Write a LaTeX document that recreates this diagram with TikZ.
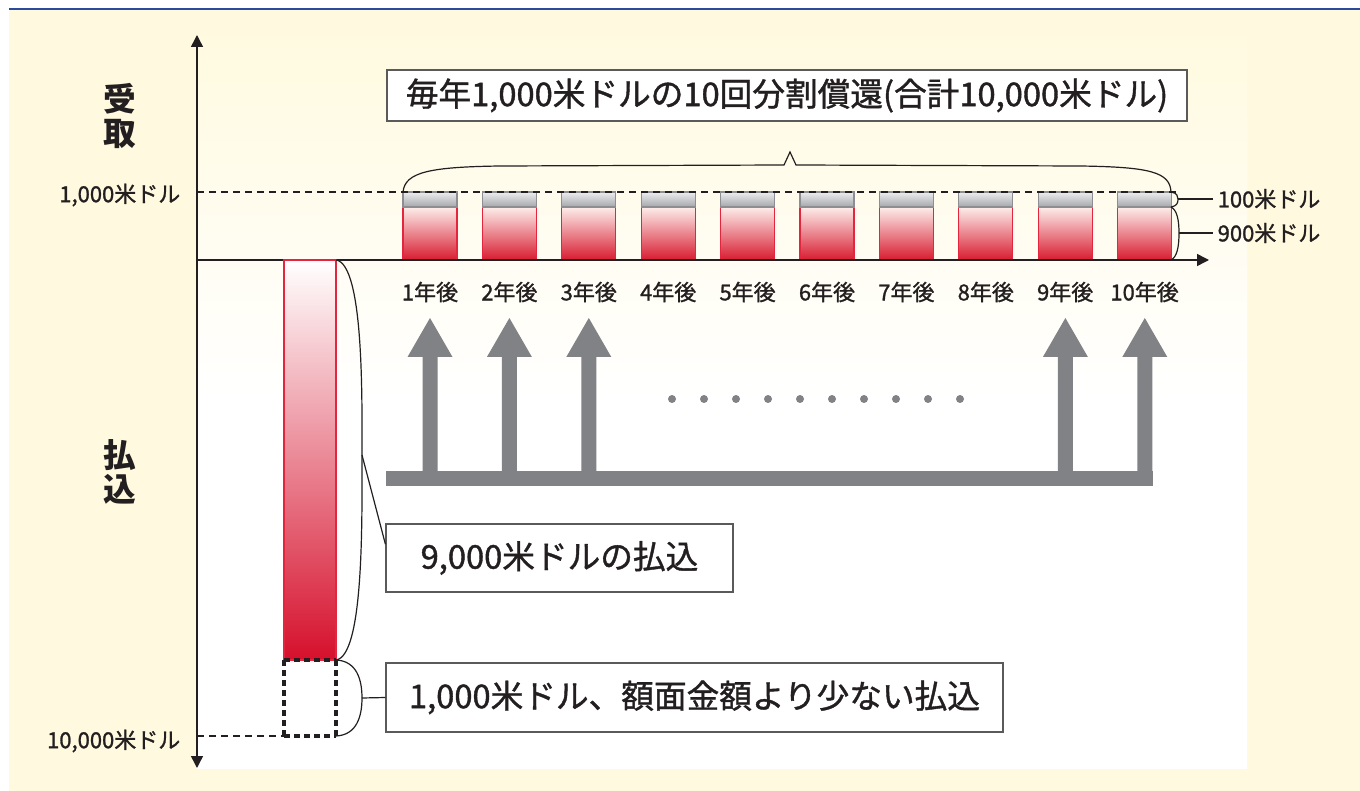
\documentclass[tikz,border=0pt]{standalone}
\usepackage{fontspec}
\setmainfont{Noto Sans CJK JP}
\newfontfamily\jpmed{Noto Sans CJK JP}[BoldFont=Noto Sans CJK JP,BoldFeatures={FakeBold=1.2}]
\usetikzlibrary{arrows.meta,calc}
\definecolor{cream}{HTML}{FFFADF}
\definecolor{topblue}{HTML}{2A4A9C}
\definecolor{arrowgray}{HTML}{808285}
\definecolor{barred}{HTML}{D81B30}
\definecolor{barredtop}{HTML}{FDEEEB}
\definecolor{barborder}{HTML}{E3263D}
\definecolor{capTop}{HTML}{ECEDEF}
\definecolor{capBot}{HTML}{A4A6AA}
\definecolor{capBorder}{HTML}{8C8E92}
\definecolor{ink}{HTML}{231F20}
\definecolor{boxline}{HTML}{5A5A5A}
\definecolor{salmon}{HTML}{EA9483}
\begin{document}
\begin{tikzpicture}[x=0.75pt,y=-0.75pt,
  ink/.style={draw=ink,line width=0.9pt},
  bigtxt/.style={text=ink,font=\jpmed\bfseries\fontsize{24.5}{28}\selectfont},
  smalltxt/.style={text=ink,font=\jpmed\bfseries\fontsize{16.5}{20}\selectfont},
  axislbl/.style={text=ink,font=\fontsize{24.5}{25.5}\selectfont\bfseries,align=center},
  labelbox/.style={draw=boxline,line width=0.9pt,fill=white,inner sep=0pt},
  tip/.style={-{Triangle[width=9pt,length=9pt]}},
  garrow/.style={fill=arrowgray},
  gridline/.style={draw=ink,line width=0.8pt,dash pattern=on 5pt off 4pt},
  thickdash/.style={draw=ink,line width=2.6pt,dash pattern=on 4.5pt off 3pt}
]
\useasboundingbox (0,0) rectangle (1360,791);
\fill[white] (0,0) rectangle (1360,791);
\fill[cream] (9,10) rectangle (1360,791);
\draw[topblue,line width=2.2pt] (9,9) -- (1360,9);
% inner panel
\shade[top color=cream,bottom color=white,middle color=white] (197,30) rectangle (1247,768);

% year bars
\foreach \i in {0,...,9}{
  \pgfmathsetmacro{\bx}{403+\i*79.4}
  \shade[top color=barredtop,bottom color=barred,draw=barborder,line width=0.8pt] (\bx,207) rectangle ++(54,53);
  \shade[top color=capTop,bottom color=capBot,draw=capBorder,line width=0.8pt] (\bx,192) rectangle ++(54,15);
}
\foreach \i/\t in {0/1,1/2,2/3,3/4,4/5,5/6,6/7,7/8,8/9,9/10}{
  \node[smalltxt] (y\t) at ({430+\i*79.4},292) {\t 年後};
}

% dashed reference lines
\draw[gridline] (197,192) -- (1178,192);
\draw[gridline] (197,736) -- (284,736);

% axes
\draw[ink,line width=1.1pt,{Triangle[width=9pt,length=9pt]}-{Triangle[width=9pt,length=9pt]}] (197,768) -- (197,35);
\draw[ink,line width=1.1pt,tip] (197,260) -- (1209,260);

% axis labels
\node[axislbl] (recv) at (120,116) {受\\取};
\node[axislbl] (pay) at (120,472) {払\\込};
\node[smalltxt,anchor=east] (l1000) at (185,195) {1,000米ドル};
\node[smalltxt,anchor=east] (l10000) at (185,741) {10,000米ドル};

% payment bar
\shade[top color=white,middle color=salmon,bottom color={rgb,255:red,214;green,16;blue,44},draw=barborder,line width=0.8pt] (284,260) rectangle (336,660);
\draw[thickdash] (284,660) -- (336,660);
\draw[thickdash] (284,736) -- (336,736);
\draw[thickdash] (284,660) -- (284,736);
\draw[thickdash] (336,660) -- (336,736);

% title box and brace
\node[labelbox,minimum width=800*0.75pt,minimum height=51*0.75pt,bigtxt] (title) at (787,95.5) {毎年1,000米ドルの10回分割償還(合計10,000米ドル)};
\coordinate (bl) at (403,192);
\coordinate (br) at (1171,192);
\coordinate (peak) at (790,152);
\draw[ink] (bl) .. controls (405,172) and (430,167) .. (500,166) -- (784,165) -- (peak) -- (796,165) -- (1080,166) .. controls (1150,167) and (1170,172) .. (br);

% right side brackets
\node[smalltxt,anchor=west] (l100) at (1213,199) {100米ドル};
\node[smalltxt,anchor=west] (l900) at (1213,233) {900米ドル};
\coordinate (s1) at (1178,199);
\coordinate (s2) at (1179,233);
\draw[ink] (br) .. controls (1177,193) and (1178,196) .. (s1) .. controls (1178,203) and (1177,206) .. (1171,207);
\draw[ink] (1171,207) .. controls (1177,210) and (1179,220) .. (s2) .. controls (1179,247) and (1177,257) .. (1171,260);
\draw[ink] (s1) -- (l100.west);
\draw[ink] (s2) -- (l900.west);

% gray cash-flow arrows
\fill[garrow] (386,471) rectangle (1153,486);
\foreach \cx in {430,509.4,588.8,1065.4,1144.8}{
  \fill[garrow] (\cx-7.5,472) -- (\cx-7.5,357) -- (\cx-22.5,357) -- (\cx,318) -- (\cx+22.5,357) -- (\cx+7.5,357) -- (\cx+7.5,472) -- cycle;
}
\foreach \k in {0,...,9}{
  \fill[arrowgray] ({672+\k*32},399) circle (4);
}

% payment boxes
\node[labelbox,minimum width=347*0.75pt,minimum height=68*0.75pt,bigtxt] (box9) at (559.5,558) {9,000米ドルの払込};
\node[labelbox,minimum width=617*0.75pt,minimum height=69*0.75pt,bigtxt] (box1) at (694.5,697.5) {1,000米ドル、額面金額より少ない払込};
\coordinate (b9) at (362,455);
\coordinate (b1) at (362,698);
\draw[ink] (336,260) .. controls (364,264) and (362,400) .. (b9) .. controls (362,520) and (364,656) .. (336,660);
\draw[ink] (336,660) .. controls (357,661) and (362,680) .. (b1) .. controls (362,716) and (357,735) .. (336,736);
\draw[ink] (b9) -- ($(box9.north west)!0.3!(box9.south west)$);
\draw[ink] (b1) -- (box1.west);
\end{tikzpicture}
\end{document}
